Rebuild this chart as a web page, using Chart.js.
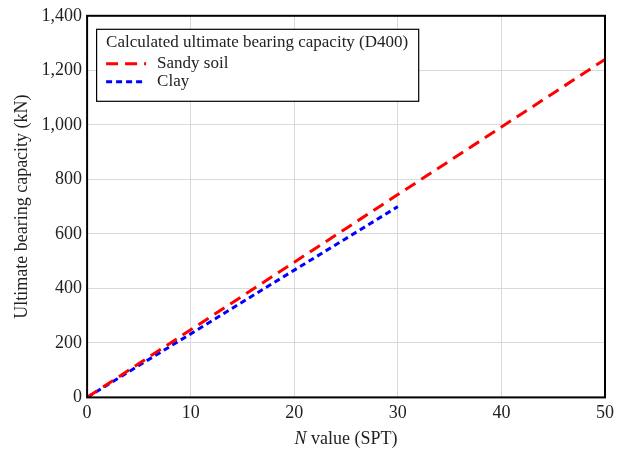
<!DOCTYPE html>
<html>
<head>
<meta charset="utf-8">
<script src="https://cdn.jsdelivr.net/npm/chart.js@4"></script>
<style>
  html, body { margin: 0; padding: 0; background: #fff; }
  #wrap { width: 620px; height: 450px; }
</style>
</head>
<body>
<div id="wrap"><canvas id="myChart"></canvas></div>
<script>
// N values (SPT) and capacities
const nSandy = [0, 5, 10, 15, 20, 25, 30, 35, 40, 45, 50]
const qSandy = [0, 124, 248, 372, 496, 620, 744, 868, 992, 1116, 1240]
const nClay = [0, 5, 10, 15, 20, 25, 30]
const qClay = [0, 117, 233, 350, 467, 583, 700]
const legendTitle = 'Calculated ultimate bearing capacity (D400)'

const fontFam = "'Liberation Serif', 'Times New Roman', serif"

const toPts = (xs, ys) => xs.map((x, i) => ({ x: x, y: ys[i] }))

// frame around plot, boxed legend, x title with italic N
const extras = {
  id: 'extras',
  afterDraw(chart) {
    const ctx = chart.ctx
    const a = chart.chartArea
    ctx.save()
    ctx.strokeStyle = '#000'
    ctx.lineWidth = 2
    ctx.strokeRect(a.left, a.top, a.right - a.left, a.bottom - a.top)

    // legend box
    const bx = a.left + 9, by = a.top + 13
    ctx.font = "17px " + fontFam
    const tw = ctx.measureText(legendTitle).width
    const bw = tw + 20, bh = 72
    ctx.fillStyle = '#fff'
    ctx.fillRect(bx, by, bw, bh)
    ctx.lineWidth = 1.2
    ctx.strokeStyle = '#000'
    ctx.strokeRect(bx + 0.5, by + 0.5, bw, bh)
    ctx.fillStyle = '#222'
    ctx.textBaseline = 'middle'
    ctx.fillText(legendTitle, bx + 10, by + 14)
    chart.data.datasets.forEach((ds, i) => {
      const yy = by + 35 + i * 18
      ctx.beginPath()
      ctx.setLineDash(ds.borderDash)
      ctx.strokeStyle = ds.borderColor
      ctx.lineWidth = ds.borderWidth
      ctx.moveTo(bx + 10, yy)
      ctx.lineTo(bx + 50, yy)
      ctx.stroke()
      ctx.setLineDash([])
      ctx.fillText(ds.label, bx + 61, yy)
    })

    // x axis title
    ctx.textBaseline = 'alphabetic'
    const cx = (a.left + a.right) / 2
    ctx.font = "italic 18px " + fontFam
    const w1 = ctx.measureText('N').width
    ctx.font = "18px " + fontFam
    const rest = ' value (SPT)'
    const w2 = ctx.measureText(rest).width
    const x0 = cx - (w1 + w2) / 2
    const y0 = 444
    ctx.font = "italic 18px " + fontFam
    ctx.fillText('N', x0, y0)
    ctx.font = "18px " + fontFam
    ctx.fillText(rest, x0 + w1, y0)
    ctx.restore()
  }
}

const config = {
  type: 'line',
  data: {
    datasets: [
      {
        label: 'Sandy soil',
        data: toPts(nSandy, qSandy),
        borderColor: '#ff0000',
        backgroundColor: '#ff0000',
        borderWidth: 3,
        borderDash: [12, 7],
        pointRadius: 0,
        fill: false
      },
      {
        label: 'Clay',
        data: toPts(nClay, qClay),
        borderColor: '#0000ff',
        backgroundColor: '#0000ff',
        borderWidth: 3,
        borderDash: [6, 4],
        pointRadius: 0,
        fill: false
      }
    ]
  },
  options: {
    responsive: true,
    maintainAspectRatio: false,
    animation: false,
    layout: { padding: { top: 3, right: 15, left: 7, bottom: 21 } },
    plugins: {
      tooltip: { enabled: false },
      legend: { display: false }
    },
    scales: {
      x: {
        type: 'linear',
        min: 0,
        max: 50,
        ticks: {
          stepSize: 10,
          color: '#222',
          font: { family: fontFam, size: 18 },
          padding: 5
        },
        grid: { color: '#d9d9d9', drawTicks: false },
        border: { display: false }
      },
      y: {
        min: 0,
        max: 1400,
        ticks: {
          stepSize: 200,
          color: '#222',
          font: { family: fontFam, size: 18 },
          padding: 5
        },
        grid: { color: '#d9d9d9', drawTicks: false },
        border: { display: false },
        title: {
          display: true,
          text: 'Ultimate bearing capacity (kN)',
          color: '#222',
          font: { family: fontFam, size: 18 },
          padding: { bottom: 4 }
        }
      }
    }
  },
  plugins: [extras]
}

const grafico = new Chart(document.getElementById('myChart'), config)
</script>
</body>
</html>
